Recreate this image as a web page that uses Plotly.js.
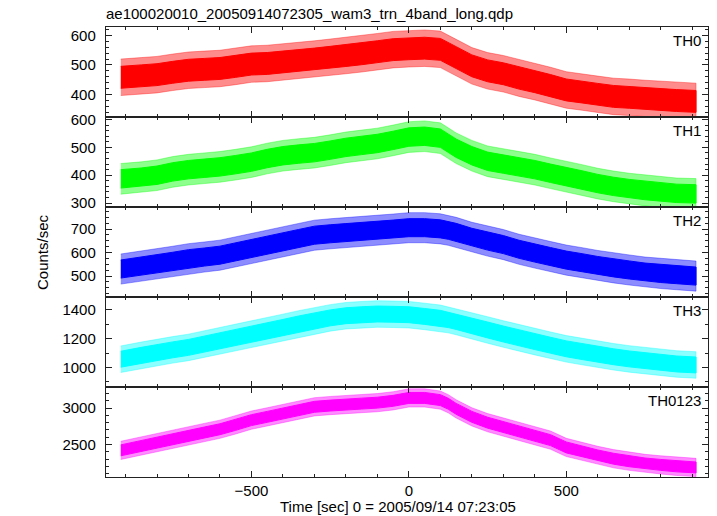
<!DOCTYPE html>
<html>
<head>
<meta charset="utf-8">
<script src="https://cdn.plot.ly/plotly-3.0.1.min.js"></script>
<style>
  html, body { margin: 0; padding: 0; background: #fff; }
  #chart { width: 717px; height: 516px; }
</style>
</head>
<body>
<div id="chart"></div>
<script>
// Time (sec) relative to 2005/09/14 07:23:05
const time = [-915, -850, -800, -750, -700, -650, -600, -550, -500, -450, -400, -350, -300, -250, -200, -150, -100, -50, 0, 50, 100, 125, 150, 200, 250, 300, 350, 400, 450, 500, 550, 600, 650, 700, 750, 800, 850, 912];

// Running level (counts/sec) of each band
const th0 = [458, 463, 467, 475, 482, 485, 488, 495, 503, 505, 510, 515, 520, 526, 532, 538, 545, 552, 555, 557, 553, 540, 525, 497, 480, 470, 455, 443, 430, 415, 408, 400, 393, 390, 386, 383, 379, 376];
const th1 = [387, 393, 400, 412, 420, 425, 430, 438, 447, 460, 470, 476, 481, 490, 500, 507, 514, 525, 537, 540, 533, 515, 497, 470, 450, 440, 430, 420, 407, 394, 383, 370, 360, 352, 345, 340, 335, 333];
const th2 = [530, 543, 553, 563, 574, 581, 589, 603, 617, 632, 646, 660, 674, 680, 685, 689, 694, 700, 706, 706, 701, 695, 686, 665, 649, 634, 614, 598, 583, 568, 557, 545, 535, 526, 517, 511, 506, 500];
const th3 = [1058, 1085, 1106, 1123, 1140, 1163, 1185, 1210, 1233, 1256, 1279, 1303, 1326, 1345, 1360, 1367, 1372, 1370, 1367, 1355, 1342, 1333, 1320, 1288, 1261, 1233, 1205, 1180, 1155, 1130, 1111, 1092, 1075, 1060, 1047, 1035, 1025, 1018];
const th0123 = [2420, 2480, 2530, 2575, 2620, 2665, 2710, 2770, 2835, 2880, 2927, 2975, 3018, 3035, 3052, 3062, 3075, 3100, 3140, 3140, 3110, 3060, 2990, 2880, 2800, 2740, 2680, 2620, 2560, 2460, 2410, 2350, 2305, 2270, 2240, 2220, 2200, 2185];

// Half-width of the scatter of each band (counts/sec)
const scatter = [62, 55, 64, 92, 125];

const bandNames = ['TH0', 'TH1', 'TH2', 'TH3', 'TH0123'];
const bandData = [th0, th1, th2, th3, th0123];
const bandColors = ['#ff0000', '#00ff00', '#0000ff', '#00ffff', '#ff00ff'];
const bandFaint = ['rgba(255,0,0,0.45)', 'rgba(0,255,0,0.45)', 'rgba(0,0,255,0.45)', 'rgba(0,255,255,0.45)', 'rgba(255,0,255,0.45)'];

const yRanges = [[323, 629], [286, 609], [411, 794], [865, 1490], [2054, 3290]];
const yDtick = [100, 100, 100, 200, 500];
const yMinor = [20, 20, 25, 100, 100];

const axisColor = '#222';
const font = { family: 'Liberation Sans, Arial, sans-serif', size: 15, color: '#000' };

function band(vals, w) {
  const xs = time.concat(time.slice().reverse());
  const lo = vals.map(v => v - w);
  const hi = vals.map(v => v + w).reverse();
  return { xs, ys: lo.concat(hi) };
}

const traces = [];
const layout = {
  width: 717, height: 516,
  margin: { l: 106, r: 9, t: 27, b: 39 },
  paper_bgcolor: '#fff', plot_bgcolor: '#fff',
  showlegend: false,
  font: font,
  title: {
    text: 'ae100020010_20050914072305_wam3_trn_4band_long.qdp',
    font: font,
    x: 106 / 717, xref: 'container', xanchor: 'left',
    y: 1 - 14 / 516, yref: 'container', yanchor: 'middle'
  },
  annotations: []
};

for (let i = 0; i < 5; i++) {
  const n = i + 1;
  const xa = 'x' + (n === 1 ? '' : n);
  const ya = 'y' + (n === 1 ? '' : n);
  const outer = band(bandData[i], scatter[i]);
  const inner = band(bandData[i], scatter[i] * 0.6);
  traces.push({
    x: outer.xs, y: outer.ys, xaxis: xa, yaxis: ya, type: 'scatter', mode: 'lines',
    fill: 'toself', fillcolor: bandFaint[i], line: { width: 0.8, color: bandFaint[i] }, hoverinfo: 'skip'
  });
  traces.push({
    x: inner.xs, y: inner.ys, xaxis: xa, yaxis: ya, type: 'scatter', mode: 'lines',
    fill: 'toself', fillcolor: bandColors[i], line: { width: 1, color: bandColors[i] }, name: bandNames[i]
  });

  const top = 1 - i * 0.2, bottom = 1 - (i + 1) * 0.2;
  layout['xaxis' + (n === 1 ? '' : n)] = {
    anchor: ya,
    matches: n === 5 ? undefined : 'x5',
    range: [-962, 950],
    showticklabels: n === 5,
    ticks: 'inside', ticklen: 6, tickwidth: 1, tickcolor: axisColor,
    mirror: 'ticks', showline: true, linecolor: axisColor, linewidth: 1.2,
    showgrid: false, zeroline: false, tick0: 0, dtick: 500,
    minor: { dtick: 100, tick0: 0, ticks: 'inside', ticklen: 3, tickcolor: axisColor, showgrid: false },
    tickfont: font
  };
  layout['yaxis' + (n === 1 ? '' : n)] = {
    anchor: xa,
    domain: [bottom, top],
    range: yRanges[i],
    ticks: 'inside', ticklen: 6, tickwidth: 1, tickcolor: axisColor,
    mirror: 'ticks', showline: true, linecolor: axisColor, linewidth: 1.2,
    showgrid: false, zeroline: false, tick0: 0, dtick: yDtick[i],
    minor: { dtick: yMinor[i], tick0: 0, ticks: 'inside', ticklen: 3, tickcolor: axisColor, showgrid: false },
    tickfont: font, ticklabelstandoff: 6
  };
  layout.annotations.push({
    text: bandNames[i], xref: 'paper', yref: 'paper',
    x: (703 - 106) / 602, xanchor: 'right',
    y: top, yanchor: 'top', yshift: -3,
    showarrow: false, font: font
  });
}

layout.annotations.push({
  text: 'Counts/sec', xref: 'paper', yref: 'paper', x: (42 - 106) / 602, y: 0.5,
  xanchor: 'center', yanchor: 'middle', textangle: -90, showarrow: false, font: font
});
layout.annotations.push({
  text: 'Time [sec] 0 = 2005/09/14 07:23:05', xref: 'paper', yref: 'paper',
  x: (397.5 - 106) / 602, y: (477 - 506) / 450, xanchor: 'center', yanchor: 'middle',
  showarrow: false, font: font
});

Plotly.newPlot('chart', traces, layout, { staticPlot: true, displayModeBar: false });
</script>
</body>
</html>
